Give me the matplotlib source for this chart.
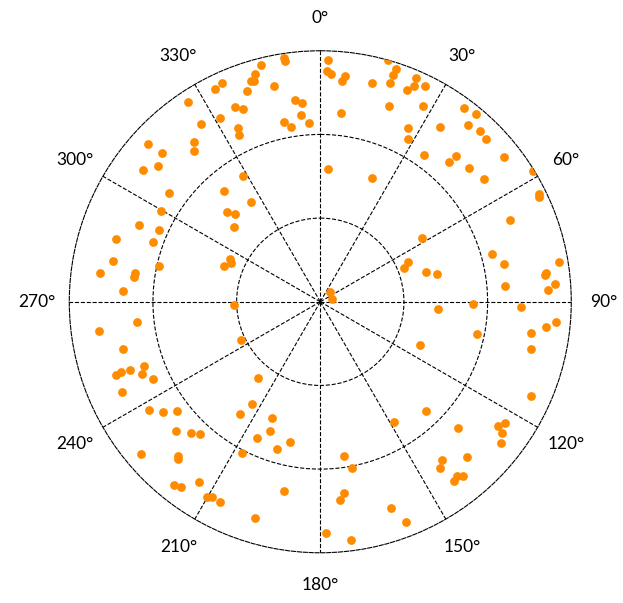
import numpy as np
import matplotlib.pyplot as plt

plt.rcParams['font.family'] = ['Lato', 'DejaVu Sans']

# angle (degrees, clockwise from north) and radius of each sample
theta_deg = [
    335.9, 333.6, 326.5, 336.2, 331.5, 326.2, 321.7, 320.0, 312.4, 313.2,
    309.9, 306.6, 305.7, 319.0, 299.8, 313.7, 315.7, 310.8, 334.7, 334.1,
    351.5, 351.7, 346.0, 343.9, 342.6, 343.2, 340.9, 347.8, 338.1, 352.8,
    354.7, 354.0, 348.5, 350.5, 356.4, 1.8, 1.7, 2.6, 6.3, 5.7,
    6.3, 13.2, 15.6, 18.0, 17.8, 17.7, 22.2, 19.2, 26.8, 28.4,
    3.3, 22.9, 328.4, 325.4, 23.2, 23.6, 25.8, 27.7, 34.5, 36.6,
    39.7, 39.9, 43.1, 45.5, 35.3, 42.9, 42.8, 48.2, 51.8, 53.2,
    58.4, 63.8, 64.4, 292.9, 294.1, 287.1, 289.8, 281.1, 277.5, 278.8,
    277.5, 282.4, 273.1, 295.3, 293.7, 290.2, 268.1, 263.7, 262.5, 256.6,
    249.8, 250.2, 250.5, 250.2, 247.9, 245.1, 43.8, 75.2, 244.2, 219.0,
    65.7, 67.9, 66.6, 57.9, 74.3, 76.7, 74.4, 78.3, 80.5, 82.7,
    83.2, 85.6, 87.1, 85.2, 90.7, 91.4, 93.7, 101.5, 94.9, 96.3,
    98.4, 102.7, 113.4, 245.5, 237.8, 235.0, 232.8, 228.1, 224.7, 222.3,
    229.6, 222.6, 222.1, 218.6, 216.9, 213.9, 210.2, 209.1, 206.6, 213.8,
    215.7, 202.5, 201.2, 204.8, 192.2, 196.5, 207.4, 171.1, 169.1, 148.6,
    190.9, 172.8, 174.4, 161.2, 158.7, 196.9, 178.5, 172.6, 114.1, 136.0,
    132.5, 124.9, 123.2, 125.8, 128.1, 142.5, 144.4, 136.6, 141.9, 140.7,
    143.2,
]
r = [
    2.87, 2.84, 2.87, 2.54, 2.50, 2.56, 2.43, 2.35, 2.79, 2.59,
    2.53, 2.64, 2.22, 1.76, 2.19, 1.55, 1.46, 1.36, 2.30, 2.22,
    2.94, 2.91, 2.92, 2.83, 2.76, 2.76, 2.67, 2.64, 2.48, 2.43,
    2.38, 2.24, 2.19, 2.12, 2.14, 2.89, 2.76, 2.72, 2.71, 2.65,
    2.27, 2.69, 3.00, 2.93, 2.85, 2.75, 2.73, 2.48, 2.33, 2.21,
    1.59, 1.60, 1.76, 1.45, 2.91, 2.81, 2.87, 2.64, 2.53, 2.89,
    2.92, 2.76, 2.80, 2.77, 2.15, 2.38, 2.27, 2.39, 2.80, 2.45,
    2.98, 2.91, 2.90, 2.35, 2.11, 2.55, 2.12, 2.53, 2.65, 2.24,
    2.25, 1.97, 2.36, 1.20, 1.16, 1.23, 1.03, 2.20, 2.67, 2.42,
    2.24, 2.42, 2.53, 2.59, 2.30, 2.20, 0.16, 0.14, 1.05, 1.18,
    1.15, 1.08, 2.47, 1.43, 1.31, 1.43, 2.13, 2.24, 2.89, 2.72,
    2.71, 2.81, 2.72, 2.21, 1.83, 2.40, 1.41, 1.91, 2.83, 2.72,
    2.55, 2.58, 1.30, 2.61, 2.42, 2.29, 2.15, 2.32, 2.20, 2.13,
    2.81, 2.51, 2.53, 2.80, 2.77, 2.59, 2.70, 2.67, 2.68, 1.47,
    1.65, 1.50, 1.66, 1.80, 1.71, 1.83, 2.03, 1.86, 2.02, 1.69,
    2.30, 2.30, 2.38, 2.61, 2.83, 2.70, 2.77, 2.87, 2.76, 1.82,
    2.23, 2.59, 2.64, 2.68, 2.74, 2.39, 2.45, 2.56, 2.64, 2.69,
    2.67,
]
angle_ticks = list(range(0, 360, 30))
angle_labels = [f'{a}°' for a in angle_ticks]
ring_ticks = [1, 2]

fig = plt.figure(figsize=(6.23, 6.03), dpi=100)
ax = fig.add_axes([0.1112, 0.0833, 0.8058, 0.8325], projection='polar')
ax.set_theta_zero_location('N')
ax.set_theta_direction(-1)

ax.scatter(np.deg2rad(theta_deg), r, s=40, color='#ff8c00', linewidths=0, zorder=3)

ax.set_ylim(0, 3)
ax.set_rticks(ring_ticks)
ax.set_yticklabels([])
ax.set_thetagrids(angle_ticks, angle_labels, fontsize=12.5)
ax.tick_params(axis='x', pad=13)
ax.grid(True, color='black', linestyle='--', linewidth=0.8)

# outer ring drawn dashed like the grid
ax.spines['polar'].set_linestyle('--')
ax.spines['polar'].set_linewidth(0.8)
ax.spines['polar'].set_edgecolor('black')

fig.savefig('out.png', dpi=100)
